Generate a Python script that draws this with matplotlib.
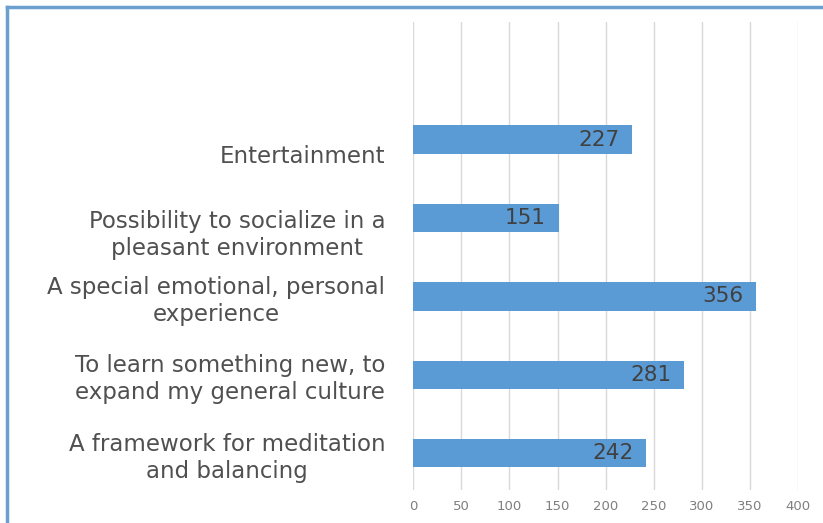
import matplotlib.pyplot as plt
from matplotlib.lines import Line2D
from matplotlib.transforms import ScaledTranslation

categories = [
    "A framework for meditation\nand balancing",
    "To learn something new, to\nexpand my general culture",
    "A special emotional, personal\nexperience",
    "Possibility to socialize in a\npleasant environment",
    "Entertainment",
]
values = [242, 281, 356, 151, 227]
xticks = [0, 50, 100, 150, 200, 250, 300, 350, 400]

plt.rcParams["font.family"] = ["DejaVu Sans"]

fig = plt.figure(figsize=(8.23, 5.23), dpi=100)
ax = fig.add_axes([0.502, 0.063, 0.468, 0.895])

ypos = list(range(len(categories)))
bars = ax.barh(ypos, values, height=0.36, color="#5B9BD5", zorder=3)

for b, v in zip(bars, values):
    ax.text(b.get_width() - 13, b.get_y() + b.get_height() / 2, str(v),
            ha="right", va="center", fontsize=15.5, color="#404040", zorder=4)

ax.set_xlim(0, 400)
ax.set_ylim(-0.47, 5.5)
ax.set_xticks(xticks)
ax.set_yticks(ypos)
ax.set_yticklabels(categories, fontsize=16.5, color="#505050", linespacing=1.22)
ax.tick_params(axis="x", labelsize=9.5, colors="#7F7F7F", length=0, pad=7)
ax.tick_params(axis="y", length=0, pad=20)
# top two labels sit a bit below their bars, lines centred
drops = [0, 0, 0, 13, 14]
for lab, d in zip(ax.get_yticklabels(), drops):
    lab.set_multialignment("center")
    lab.set_transform(lab.get_transform()
                      + ScaledTranslation(0, -d / 100, fig.dpi_scale_trans))
ax.grid(axis="x", color="#D9D9D9", linewidth=1, zorder=0)
for s in ax.spines.values():
    s.set_visible(False)

# blue frame on the left and top of the figure
fig.add_artist(Line2D([6.5 / 823, 6.5 / 823], [0, 1 - 6.5 / 523],
                      transform=fig.transFigure, color="#6A9FD0", linewidth=2.5))
fig.add_artist(Line2D([6.5 / 823, 1], [1 - 6.5 / 523, 1 - 6.5 / 523],
                      transform=fig.transFigure, color="#6A9FD0", linewidth=2.5))

fig.savefig("out.png", dpi=100)
